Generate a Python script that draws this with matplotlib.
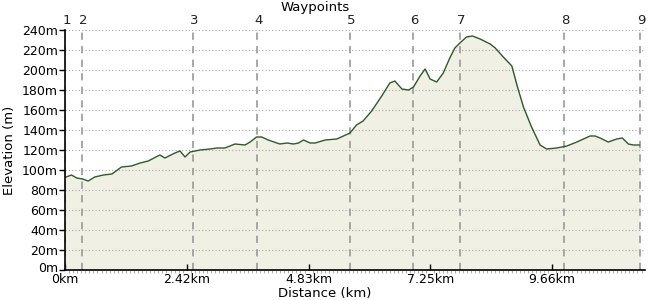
import matplotlib.pyplot as plt
import matplotlib.transforms as mtransforms
from matplotlib.ticker import FixedLocator, MultipleLocator

# elevation profile
distance_km = [0.00, 0.02, 0.13, 0.23, 0.35, 0.46, 0.59, 0.76, 0.93, 1.12,
               1.32, 1.49, 1.65, 1.88, 1.98, 2.18, 2.28, 2.38, 2.48, 2.68,
               2.88, 3.01, 3.17, 3.37, 3.57, 3.67, 3.80, 3.90, 4.03, 4.26,
               4.40, 4.53, 4.63, 4.73, 4.86, 4.96, 5.16, 5.39, 5.52, 5.65,
               5.78, 5.91, 6.08, 6.28, 6.44, 6.54, 6.68, 6.81, 6.91, 7.04,
               7.14, 7.24, 7.37, 7.50, 7.63, 7.73, 7.83, 7.96, 8.08, 8.23,
               8.43, 8.53, 8.69, 8.86, 8.96, 9.09, 9.25, 9.42, 9.55, 9.75,
               9.95, 10.15, 10.41, 10.51, 10.61, 10.77, 10.94, 11.05, 11.17, 11.27,
               11.39]
elevation_m = [93, 93, 95, 92, 91, 89, 93, 95, 96, 103,
               104, 107, 109, 115, 112, 117, 119, 113, 118, 120,
               121, 122, 122, 126, 125, 128, 133, 133, 130, 126,
               127, 126, 127, 130, 127, 127, 130, 131, 134, 137,
               145, 149, 159, 174, 187, 189, 181, 180, 183, 194,
               201, 191, 188, 197, 212, 222, 227, 233, 234, 231,
               226, 222, 213, 204, 185, 163, 143, 125, 121, 122,
               124, 128, 134, 134, 132, 128, 131, 132, 126, 125,
               125]

waypoint_labels = ["1", "2", "3", "4", "5", "6", "7", "8", "9"]
waypoint_km = [0.0, 0.34, 2.54, 3.81, 5.65, 6.90, 7.83, 9.89, 11.40]

xtick_km = [0, 2.415, 4.83, 7.245, 9.66]
xtick_labels = ["0km", "2.42km", "4.83km", "7.25km", "9.66km"]
ytick_m = list(range(0, 241, 20))

fig = plt.figure(figsize=(6.5, 3.0), dpi=100)
ax = fig.add_axes([0.1, 0.1, 0.8923, 0.8])

ax.fill_between(distance_km, elevation_m, 0, color="#f0f0e4", zorder=1)
ax.plot(distance_km, elevation_m, color="#2e5a2e", linewidth=1.0, zorder=4)

for y in ytick_m[1:]:
    ax.axhline(y, color="#a8a8a8", linewidth=0.8, linestyle=(0, (1, 2)), zorder=2)

for lab, d in zip(waypoint_labels, waypoint_km):
    ax.axvline(d, color="#a0a0a0", linewidth=1.3, linestyle=(0, (4, 3.5)), zorder=3)
    ax.text(d + 0.03, 243, lab, ha="center", va="bottom", fontsize=9.5, color="#222222")

ax.set_xlim(0, 11.50)
ax.set_ylim(0, 240)

ax.xaxis.set_major_locator(FixedLocator(xtick_km))
ax.set_xticklabels(xtick_labels)
ax.xaxis.set_minor_locator(MultipleLocator(2.415 / 30))
ax.set_yticks(ytick_m)
ax.set_yticklabels([f"{v}m" for v in ytick_m])

ax.tick_params(axis="x", which="major", direction="in", length=4, width=1,
               labelsize=9, pad=2, colors="black")
ax.tick_params(axis="x", which="minor", direction="out", length=2, width=0.8,
               color="#b0b0b0")
ax.tick_params(axis="y", direction="out", length=4, width=1, labelsize=9, pad=1)
for lbl in ax.get_yticklabels():
    lbl.set_verticalalignment("center_baseline")

# nudge "0m" up a little so it clears "0km"
zero_lbl = ax.get_yticklabels()[0]
zero_lbl.set_transform(zero_lbl.get_transform()
                       + mtransforms.ScaledTranslation(0, 2.5 / 72, fig.dpi_scale_trans))

for s in ["top", "right"]:
    ax.spines[s].set_visible(False)
for s in ["left", "bottom"]:
    ax.spines[s].set_linewidth(1.2)
    ax.spines[s].set_zorder(5)

ax.set_ylabel("Elevation (m)", fontsize=9.5, labelpad=4)
fig.text(0.5, 0.0, "Distance (km)", ha="center", va="bottom", fontsize=9.5)
fig.text(0.485, 0.998, "Waypoints", ha="center", va="top", fontsize=9.5)

fig.savefig("out.png", dpi=100)
